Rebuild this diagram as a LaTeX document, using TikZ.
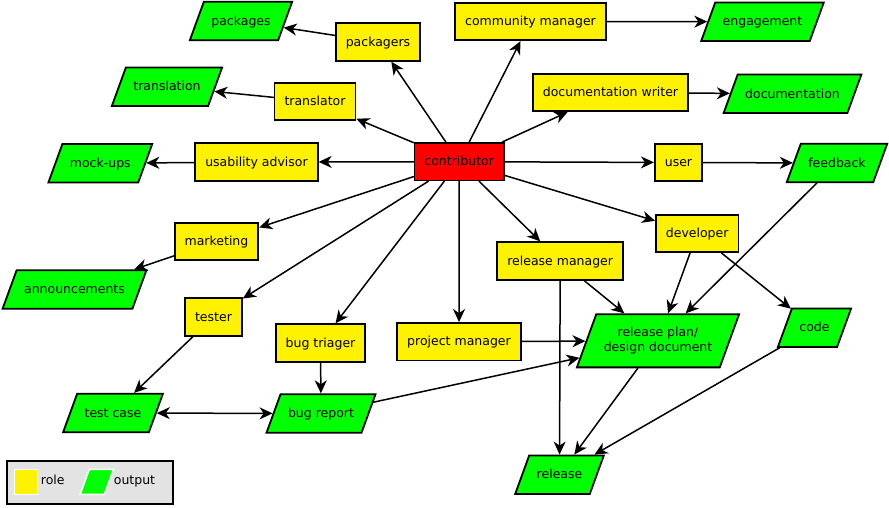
\documentclass[tikz,border=0pt]{standalone}
\usepackage{fontspec}
\setmainfont{DejaVu Sans}
\usetikzlibrary{shapes.geometric,arrows.meta}

\begin{document}
\begin{tikzpicture}[x=1pt,y=-1pt,line cap=round,>={Stealth[length=13pt,width=12pt,inset=4pt]}]
	\tikzstyle{lbl}=[font=\fontsize{12.5}{15}\selectfont,text height=10.5pt,text depth=2pt];
	\tikzstyle{role}=[lbl,draw,line width=1.8pt,fill=yellow,inner xsep=10pt,inner ysep=12.5pt];
	\tikzstyle{output}=[lbl,draw,line width=1.8pt,fill=green,trapezium,trapezium left angle=70,trapezium right angle=110,inner xsep=7.5pt,inner ysep=13pt];
	\tikzstyle{main}=[role,fill=red];
	\tikzstyle{edge}=[->,line width=1.5pt];
	\tikzstyle{keytext}=[lbl,inner sep=0pt];

	\useasboundingbox (0,0) rectangle (889,507);

	% roles
	\node[main]   (contributor)  at (459.2,161.7) {contributor};
	\node[role]   (packagers)    at (378,42)      {packagers};
	\node[role]   (community)    at (530.5,21.5)  {community manager};
	\node[role]   (translator)   at (315,101.5)   {translator};
	\node[role]   (docwriter)    at (610.5,92.5)  {documentation writer};
	\node[role]   (usability)    at (256.5,162)   {usability advisor};
	\node[role]   (user)         at (678.5,162.5) {user};
	\node[role]   (marketing)    at (216.5,241.5) {marketing};
	\node[role]   (developer)    at (697.2,233.5) {developer};
	\node[role]   (relmanager)   at (560.2,261)   {release manager};
	\node[role]   (tester)       at (213.5,317)   {tester};
	\node[role]   (triager)      at (320.5,343)   {bug triager};
	\node[role]   (projmanager)  at (459,341.7)   {project manager};

	% outputs
	\node[output] (packages)     at (241,21)      {packages};
	\node[output] (engagement)   at (762.5,21.7)  {engagement};
	\node[output] (translation)  at (167,86.7)    {translation};
	\node[output] (documentation) at (792.5,93.8) {documentation};
	\node[output] (mockups)      at (100.3,163.3) {mock-ups};
	\node[output] (feedback)     at (837,163)     {feedback};
	\node[output] (announcements) at (74.5,289.5) {announcements};
	\node[output,text height=,text depth=,align=center] (relplan) at (658,340.8) {release plan/\\design document};
	\node[output] (code)         at (814.5,327.7) {code};
	\node[output] (testcase)     at (113,413)     {test case};
	\node[output] (bugreport)    at (321,413.5)   {bug report};
	\node[output] (release)      at (559.5,474.7) {release};

	\draw[edge] (contributor) -- (packagers);
	\draw[edge] (contributor) -- (community);
	\draw[edge] (contributor) -- (docwriter);
	\draw[edge] (contributor) -- (translator);
	\draw[edge] (contributor) -- (usability);
	\draw[edge] (contributor) -- (user);
	\draw[edge] (contributor) -- (marketing);
	\draw[edge] (contributor) -- (developer);
	\draw[edge] (contributor) -- (relmanager);
	\draw[edge] (contributor) -- (tester);
	\draw[edge] (contributor) -- (triager);
	\draw[edge] (contributor) -- (projmanager);
	\draw[edge] (packagers) -- (packages);
	\draw[edge] (community) -- (engagement);
	\draw[edge] (translator) -- (translation);
	\draw[edge] (docwriter) -- (documentation);
	\draw[edge] (usability) -- (mockups);
	\draw[edge] (user) -- (feedback);
	\draw[edge] (marketing) -- (announcements);
	\draw[edge] (developer) -- (relplan);
	\draw[edge] (developer) -- (code);
	\draw[edge] (feedback) -- (relplan);
	\draw[edge] (relmanager) -- (relplan);
	\draw[edge] (relmanager) -- (release);
	\draw[edge] (projmanager) -- (relplan);
	\draw[edge] (bugreport) -- (relplan);
	\draw[edge] (relplan) -- (release);
	\draw[edge] (code) -- (release);
	\draw[edge] (tester) -- (testcase);
	\draw[edge] (triager) -- (bugreport);
	\draw[edge,<->] (testcase) -- (bugreport);

	% legend
	\draw[line width=1.8pt,fill=black!11] (7.3,461.3) rectangle (173.3,504.3);
	\node[draw=white,line width=1.5pt,fill=yellow,minimum width=23pt,minimum height=25pt,inner sep=0pt] (keyrole) at (26,481.8) {};
	\node[keytext] (keyroletxt) at (52.8,480) {role};
	\node[draw=white,line width=1.5pt,fill=green,trapezium,trapezium left angle=70,trapezium right angle=110,inner xsep=7.5pt,inner ysep=12.5pt] (keyoutput) at (96.8,481.8) {};
	\node[keytext] (keyoutputtxt) at (134.5,480) {output};
\end{tikzpicture}
\end{document}
